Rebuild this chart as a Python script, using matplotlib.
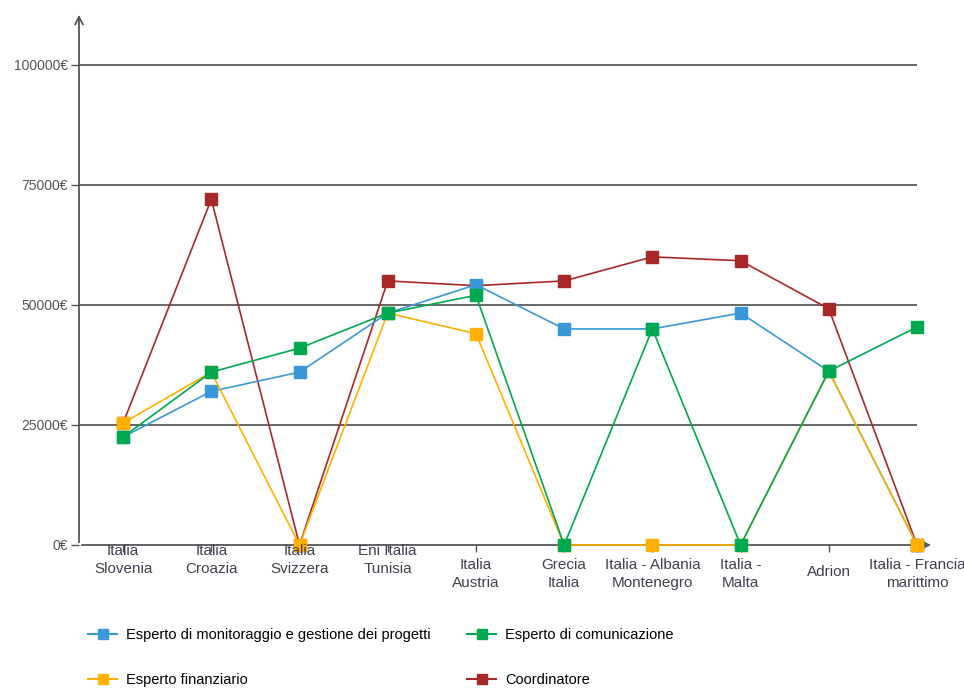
import numpy as np
import matplotlib
matplotlib.use('Agg')
import matplotlib.pyplot as plt
from matplotlib.lines import Line2D

plt.rcParams['font.family'] = ['Liberation Sans Narrow', 'Liberation Sans', 'DejaVu Sans']

##### data #####
categories = ['Italia\nSlovenia', 'Italia\nCroazia', 'Italia\nSvizzera', 'Eni Italia\nTunisia',
              'Italia\nAustria', 'Grecia\nItalia', 'Italia - Albania\nMontenegro', 'Italia -\nMalta',
              'Adrion', 'Italia - Francia\nmarittimo']
monitoraggio = [22500, 32000, 36000, 48300, 54200, 45000, 45000, 48300, 36200, 0]
comunicazione = [22500, 36000, 41000, 48300, 52000, 0, 45000, 0, 36200, 45400]
finanziario = [25400, 36000, 0, 48300, 44000, 0, 0, 0, 36200, 0]
coordinatore = [25400, 72000, 0, 55000, 54000, 55000, 60000, 59200, 49200, 0]
yticks = [0, 25000, 50000, 75000, 100000]
series_names = ['Esperto di monitoraggio e gestione dei progetti', 'Esperto di comunicazione',
                'Esperto finanziario', 'Coordinatore']
colors = {'blue': '#3a98d8', 'green': '#00a84f', 'yellow': '#ffb000', 'red': '#a82828'}
################

W, H = 964, 696
fig = plt.figure(figsize=(W / 100, H / 100), dpi=100)
ax = fig.add_axes([79 / W, (H - 545) / H, (917 - 79) / W, (545 - 12) / H])

x = np.arange(len(categories))
# draw order: red, blue, yellow, green
for vals, c in [(coordinatore, colors['red']), (monitoraggio, colors['blue']),
                (finanziario, colors['yellow']), (comunicazione, colors['green'])]:
    ax.plot(x, vals, color=c, lw=1.2, marker='s', ms=8.5, mec=c, mfc=c, clip_on=False, zorder=3)

ax.set_xlim(-0.5, len(categories) - 1)
ax.set_ylim(0, 111000)

for y in yticks[1:]:
    ax.axhline(y, color='#666666', lw=1.4, zorder=1)

for s in ax.spines.values():
    s.set_visible(False)
# axes with arrow heads
ax.annotate('', xy=(0, 1), xytext=(0, 0), xycoords='axes fraction',
            arrowprops=dict(arrowstyle='->', color='#555555', lw=1.3, mutation_scale=14), zorder=2)
ax.annotate('', xy=(1.02, 0), xytext=(0, 0), xycoords='axes fraction',
            arrowprops=dict(arrowstyle='->', color='#555555', lw=1.3, mutation_scale=14), zorder=2)

ax.set_yticks(yticks)
ax.set_yticklabels(['%d€' % v for v in yticks], fontsize=10, color='#555555')
ax.tick_params(axis='y', length=6, width=1, color='#555555', pad=2)
ax.set_xticks(x)
ax.set_xticklabels([])
ax.tick_params(axis='x', length=5, width=1, color='#555555', direction='out')

# category labels (first ones sit on the axis, others lower)
for i, lab in enumerate(categories):
    if i < 4:
        yy = 200
    elif '\n' in lab:
        yy = -2750
    else:
        yy = -4250
    ax.text(i, yy, lab, ha='center', va='top', fontsize=11, color='#404050',
            linespacing=1.35, clip_on=False)

handles = [Line2D([], [], color=colors[c], lw=1.5, marker='s', ms=7, mec=colors[c])
           for c in ['blue', 'yellow', 'green', 'red']]
labels = [series_names[0], series_names[2], series_names[1], series_names[3]]
fig.legend(handles, labels, ncol=2, loc='lower left', bbox_to_anchor=(75 / W, -0.006),
           frameon=False, fontsize=10.5, handlelength=2.0, columnspacing=2.5,
           labelspacing=2.1, handletextpad=0.6)

plt.savefig('out.png', dpi=100)
